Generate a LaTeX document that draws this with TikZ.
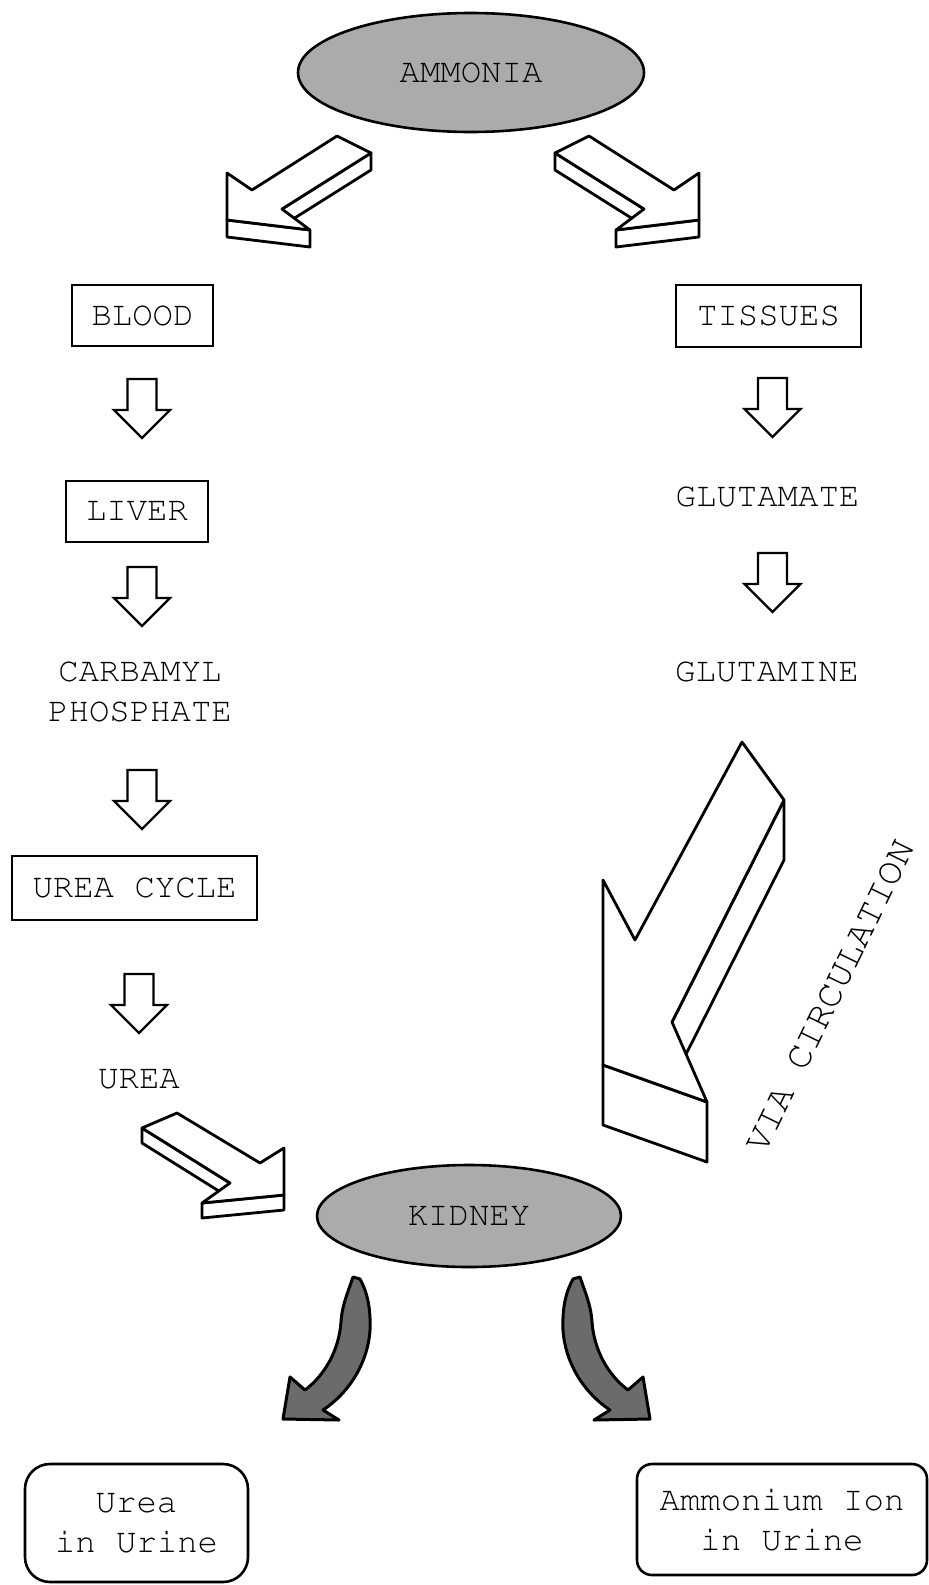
\documentclass[tikz,border=0pt]{standalone}
\usepackage[T1]{fontenc}
\usepackage{courier}
\usetikzlibrary{shapes.geometric}
\tikzset{
  lbl/.style={font=\fontsize{34}{40}\selectfont\ttfamily, align=center, inner sep=0pt},
  boxed/.style={lbl, draw, line width=2.6pt},
  oval/.style={lbl, ellipse, draw, line width=2.6pt, fill=black!33},
  urinebox/.style={lbl, draw, line width=2.6pt},
  slab/.style={draw, fill=white, line width=2.8pt, line join=round},
  hol/.style={draw, fill=white, line width=2.4pt, line join=miter},
  dark/.style={draw, fill=black!58, line width=3pt, line join=round},
  hollowarrow/.pic={\draw[hol] (-14.5,0) -- (14.5,0) -- (14.5,31) -- (28,31) -- (0,59) -- (-28,31) -- (-14.5,31) -- cycle;}
}
\newcommand\slabarrow[8]{%
  \coordinate (sA) at #1; \coordinate (sNa) at #2; \coordinate (sTa) at #3;
  \coordinate (sP) at #4; \coordinate (sTb) at #5; \coordinate (sNb) at #6;
  \coordinate (sB) at #7;
  \filldraw[slab] (sNb) -- (sB) -- ([yshift=-#8]sB) -- ([yshift=-#8]sNb) -- cycle;
  \filldraw[slab] (sP) -- (sTb) -- ([yshift=-#8]sTb) -- ([yshift=-#8]sP) -- cycle;
  \filldraw[slab] (sA) -- (sNa) -- (sTa) -- (sP) -- (sTb) -- (sNb) -- (sB) -- cycle;
}
\newcommand\darkarrow{%
  \filldraw[dark] (353,1277) .. controls (348,1292) and (342,1305) .. (341,1322)
    .. controls (339,1350) and (325,1375) .. (305,1390) -- (290,1377) -- (283,1419)
    -- (339,1420) -- (323,1410) .. controls (350,1392) and (368,1362) .. (370,1330)
    .. controls (371,1305) and (366,1290) .. (360,1279) -- cycle;
}
\begin{document}
\begin{tikzpicture}[x=1pt,y=-1pt]
\useasboundingbox (0,0) rectangle (929,1585);
\fill[white] (0,0) rectangle (929,1585);

% ovals
\node[oval, minimum width=346pt, minimum height=119pt] (ammonia) at (471,72.5) {AMMONIA};
\node[oval, minimum width=304pt, minimum height=102pt] (kidney) at (469,1216) {KIDNEY};

% left column
\node[boxed, minimum width=141pt, minimum height=61pt] (blood) at (142.5,315.5) {BLOOD};
\node[boxed, minimum width=142pt, minimum height=61pt] (liver) at (137,511.5) {LIVER};
\node[lbl] (carb) at (140,692) {CARBAMYL\\PHOSPHATE};
\node[boxed, minimum width=245pt, minimum height=64pt] (cycle) at (134.5,888) {UREA CYCLE};
\node[lbl] (urea) at (139,1079) {UREA};

% right column
\node[boxed, minimum width=185pt, minimum height=62pt] (tissues) at (768.5,316) {TISSUES};
\node[lbl] (glutamate) at (767.5,497) {GLUTAMATE};
\node[lbl] (glutamine) at (767,672) {GLUTAMINE};
\node[lbl, font=\fontsize{38}{44}\selectfont\ttfamily, rotate=64] (via) at (830,996) {VIA CIRCULATION};

% bottom boxes
\node[urinebox, rounded corners=25pt, minimum width=223pt, minimum height=118pt] (ureaurine) at (136.5,1523) {Urea\\in Urine};
\node[urinebox, rounded corners=15pt, minimum width=290pt, minimum height=111pt] (ammurine) at (782,1519.5) {Ammonium Ion\\in Urine};

% small hollow arrows
\pic at (142,379) {hollowarrow};
\pic at (142,567) {hollowarrow};
\pic at (142,770) {hollowarrow};
\pic at (139,974) {hollowarrow};
\pic at (772.5,378) {hollowarrow};
\pic at (772.5,553) {hollowarrow};

% 3D arrows
\slabarrow{(337,136)}{(252,190)}{(227,173)}{(227,220)}{(310,230)}{(282,209)}{(371,153)}{17pt}
\slabarrow{(589,136)}{(674,190)}{(699,173)}{(699,220)}{(616,230)}{(644,209)}{(555,153)}{17pt}
\slabarrow{(742,742)}{(635,940)}{(603,880)}{(603,1065)}{(707,1102)}{(672,1022)}{(784,800)}{60pt}
\slabarrow{(177,1113)}{(260,1163)}{(284,1148)}{(284,1195)}{(202,1203)}{(230,1183)}{(142,1128)}{15pt}

% dark curved arrows
\darkarrow
\begin{scope}[xshift=933pt, xscale=-1]
\darkarrow
\end{scope}
\end{tikzpicture}
\end{document}
